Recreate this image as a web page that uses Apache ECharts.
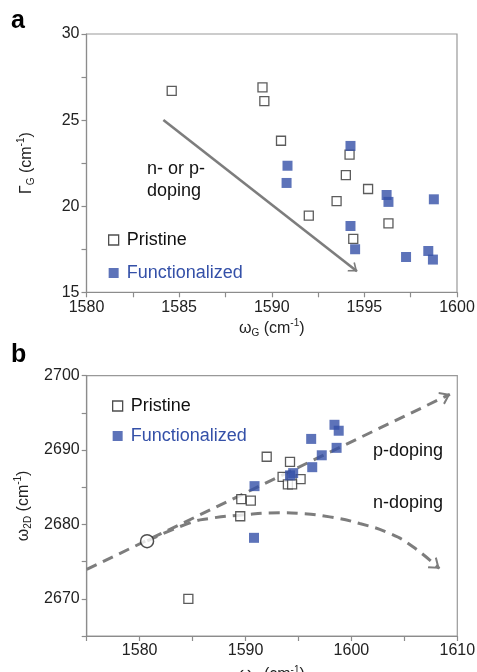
<!DOCTYPE html>
<html><head><meta charset="utf-8">
<script src="https://cdn.jsdelivr.net/npm/echarts@6/dist/echarts.min.js"></script>
<style>html,body{margin:0;padding:0;background:#fff}#c{width:477px;height:672px}</style>
</head><body><div id="c"></div>
<script>
// ---- Panel a: Gamma_G vs omega_G ----
const aPristineX = [1584.6, 1589.5, 1589.6, 1590.5, 1594.2, 1594.0, 1595.2, 1593.5, 1592.0, 1596.3, 1594.4];
const aPristineY = [26.7, 26.9, 26.1, 23.8, 23.0, 21.8, 21.0, 20.3, 19.45, 19.0, 18.1];
const aFuncX = [1594.25, 1590.85, 1590.8, 1596.2, 1596.3, 1598.75, 1594.25, 1594.5, 1597.25, 1598.45, 1598.7];
const aFuncY = [23.5, 22.35, 21.35, 20.65, 20.25, 20.4, 18.85, 17.5, 17.05, 17.4, 16.9];
const aArrowX = [1584.15, 1594.6];
const aArrowY = [25.0, 16.22];
const aXTicks = {min: 1580, max: 1600, interval: 5};
const aYTicks = {min: 15, max: 30, interval: 5};

// ---- Panel b: omega_2D vs omega_G ----
const bPristineX = [1592.0, 1594.2, 1593.5, 1595.2, 1594.0, 1594.4, 1589.6, 1590.5, 1589.5, 1584.6];
const bPristineY = [2689.1, 2688.4, 2686.4, 2686.1, 2685.4, 2685.4, 2683.4, 2683.2, 2681.1, 2670.0];
const bFuncX = [1598.4, 1598.8, 1596.2, 1597.2, 1598.6, 1596.3, 1590.85, 1594.2, 1594.5, 1590.8];
const bFuncY = [2693.4, 2692.6, 2691.5, 2689.3, 2690.3, 2687.7, 2685.15, 2686.6, 2686.9, 2678.2];
const bRefX = [1580.7];
const bRefY = [2677.75];
const pLineX = [1575.0, 1609.3];
const pLineY = [2673.95, 2697.5];
const nCurveX = [1580.72, 1584.75, 1586.63, 1589.46, 1593.24, 1595.12, 1597.95, 1600.78, 1603.61, 1605.81, 1608.3];
const nCurveY = [2677.79, 2680.22, 2680.81, 2681.25, 2681.56, 2681.48, 2681.02, 2680.13, 2678.79, 2676.99, 2674.08];
const bXTicks = {min: 1575, max: 1610, interval: 5};
const bYTicks = {min: 2665, max: 2700, interval: 5};

const zip = (xs, ys) => xs.map((x, i) => [x, ys[i]]);
const BLUE = '#3450a8';
const GRAY = '#7d7d7d';
const FONT = '"Liberation Sans", Arial, Helvetica, sans-serif';
const CHEVRON = 'path://M10,-14 M10,0 L20,14 L17.5,15.5 L10,5 L2.5,15.5 L0,14 Z';

const richName = {
  fontSize: 16, color: '#222', fontFamily: FONT, lineHeight: 20,
  rich: {
    sub: {fontSize: 10, verticalAlign: 'bottom', color: '#222', fontFamily: FONT, lineHeight: 20},
    sup: {fontSize: 10, verticalAlign: 'top', color: '#222', fontFamily: FONT, lineHeight: 20}
  }
};
const axisLine = {show: true, lineStyle: {color: '#8c8c8c', width: 1.2}};
const tick = {show: true, length: 5, inside: false, lineStyle: {color: '#8c8c8c', width: 1.2}};
const minorTick = {show: true, splitNumber: 2, length: 5, lineStyle: {color: '#8c8c8c', width: 1.2}};
const lbl = {fontSize: 16, color: '#222', fontFamily: FONT, margin: 7, formatter: v => String(v)};
const lbl10 = Object.assign({}, lbl, {formatter: v => (v % 10 === 0 ? String(v) : '')});

const pristineStyle = {color: '#fff', borderColor: '#333', borderWidth: 1.3};
const funcStyle = {color: BLUE};

function legendFor(left, top, gap) {
  return {
    orient: 'vertical', left: left, top: top, itemWidth: 10, itemHeight: 10, itemGap: gap,
    selectedMode: false,
    textStyle: {fontSize: 18, fontFamily: FONT, lineHeight: 20, padding: [0, 0, 0, 3]},
    data: [
      {name: 'Pristine', icon: 'rect', itemStyle: {color: '#fff', borderColor: '#222', borderWidth: 1.3}, textStyle: {color: '#111'}},
      {name: 'Functionalized', icon: 'rect', itemStyle: {color: BLUE}, textStyle: {color: BLUE}}
    ]
  };
}

const option = {
  animation: false,
  backgroundColor: '#fff',
  grid: [
    {left: 86.5, top: 34, width: 370.5, height: 258.3, show: true, borderColor: '#999', borderWidth: 1.2, outerBoundsMode: 'none', containLabel: false},
    {left: 86.7, top: 375.7, width: 370.6, height: 260.3, show: true, borderColor: '#999', borderWidth: 1.2, outerBoundsMode: 'none', containLabel: false}
  ],
  xAxis: [
    {type: 'value', gridIndex: 0, min: aXTicks.min, max: aXTicks.max, interval: aXTicks.interval,
     axisLine, axisTick: tick, minorTick, splitLine: {show: false}, axisLabel: lbl,
     name: 'ω{sub|G} (cm{sup|-1})', nameLocation: 'middle', nameGap: 26, nameTextStyle: richName},
    {type: 'value', gridIndex: 1, min: bXTicks.min, max: bXTicks.max, interval: bXTicks.interval,
     axisLine, axisTick: tick, splitLine: {show: false}, axisLabel: lbl10,
     name: 'ω{sub|G} (cm{sup|-1})', nameLocation: 'middle', nameGap: 29, nameTextStyle: richName}
  ],
  yAxis: [
    {type: 'value', gridIndex: 0, min: aYTicks.min, max: aYTicks.max, interval: aYTicks.interval,
     axisLine, axisTick: tick, minorTick, splitLine: {show: false}, axisLabel: lbl,
     name: 'Γ{sub|G} (cm{sup|-1})', nameLocation: 'middle', nameGap: 50, nameTextStyle: richName},
    {type: 'value', gridIndex: 1, min: bYTicks.min, max: bYTicks.max, interval: bYTicks.interval,
     axisLine, axisTick: tick, splitLine: {show: false}, axisLabel: lbl10,
     name: 'ω{sub|2D} (cm{sup|-1})', nameLocation: 'middle', nameGap: 50, nameTextStyle: richName}
  ],
  legend: [legendFor(103, 225, 13), legendFor(107, 391, 10)],
  graphic: [
    {type: 'text', left: 11, top: 9, style: {text: 'a', font: 'bold 25px ' + FONT, fill: '#000'}},
    {type: 'text', left: 11, top: 343, style: {text: 'b', font: 'bold 25px ' + FONT, fill: '#000'}},
    {type: 'text', left: 147, top: 158, style: {text: 'n- or p-\ndoping', font: '18px ' + FONT, fill: '#111', lineHeight: 22}},
    {type: 'text', left: 373, top: 442, style: {text: 'p-doping', font: '18px ' + FONT, fill: '#111'}},
    {type: 'text', left: 373, top: 494, style: {text: 'n-doping', font: '18px ' + FONT, fill: '#111'}}
  ],
  series: [
    {name: 'arrowA', type: 'line', xAxisIndex: 0, yAxisIndex: 0, data: [], silent: true,
     markLine: {silent: true, animation: false, symbol: ['none', CHEVRON], symbolSize: [12, 16],
       label: {show: false}, lineStyle: {color: GRAY, width: 2.6, type: 'solid'},
       data: [[{coord: [aArrowX[0], aArrowY[0]]}, {coord: [aArrowX[1], aArrowY[1]]}]]}},
    {name: 'Pristine', type: 'scatter', xAxisIndex: 0, yAxisIndex: 0, symbol: 'rect', symbolSize: 9,
     itemStyle: pristineStyle, data: zip(aPristineX, aPristineY), z: 3},
    {name: 'Functionalized', type: 'scatter', xAxisIndex: 0, yAxisIndex: 0, symbol: 'rect', symbolSize: 10,
     itemStyle: funcStyle, data: zip(aFuncX, aFuncY), z: 3},

    {name: 'pLine', type: 'line', xAxisIndex: 1, yAxisIndex: 1, data: zip(pLineX, pLineY), showSymbol: false, silent: true,
     lineStyle: {color: GRAY, width: 3, type: [11, 7]},
     markLine: {silent: true, animation: false, symbol: ['none', CHEVRON], symbolSize: [14, 20],
       label: {show: false}, lineStyle: {color: GRAY, width: 0},
       data: [[{coord: [pLineX[0], pLineY[0]]}, {coord: [pLineX[1], pLineY[1]]}]]}},
    {name: 'nCurve', type: 'line', xAxisIndex: 1, yAxisIndex: 1, data: zip(nCurveX, nCurveY), smooth: true, showSymbol: false, silent: true,
     lineStyle: {color: GRAY, width: 3, type: [11, 7]},
     markLine: {silent: true, animation: false, symbol: ['none', CHEVRON], symbolSize: [14, 20],
       label: {show: false}, lineStyle: {color: GRAY, width: 0},
       data: [[{coord: [nCurveX[nCurveX.length - 2], nCurveY[nCurveY.length - 2]]}, {coord: [nCurveX[nCurveX.length - 1], nCurveY[nCurveY.length - 1]]}]]}},
    {name: 'ref', type: 'scatter', xAxisIndex: 1, yAxisIndex: 1, symbol: 'circle', symbolSize: 13,
     itemStyle: {color: '#fff', borderColor: '#222', borderWidth: 1.5}, data: zip(bRefX, bRefY), z: 4},
    {name: 'Pristine', type: 'scatter', xAxisIndex: 1, yAxisIndex: 1, symbol: 'rect', symbolSize: 9,
     itemStyle: pristineStyle, data: zip(bPristineX, bPristineY), z: 3},
    {name: 'Functionalized', type: 'scatter', xAxisIndex: 1, yAxisIndex: 1, symbol: 'rect', symbolSize: 10,
     itemStyle: funcStyle, data: zip(bFuncX, bFuncY), z: 3}
  ]
};

const chart = echarts.init(document.getElementById('c'), null, {renderer: 'canvas'});
chart.setOption(option);
</script>
</body></html>
